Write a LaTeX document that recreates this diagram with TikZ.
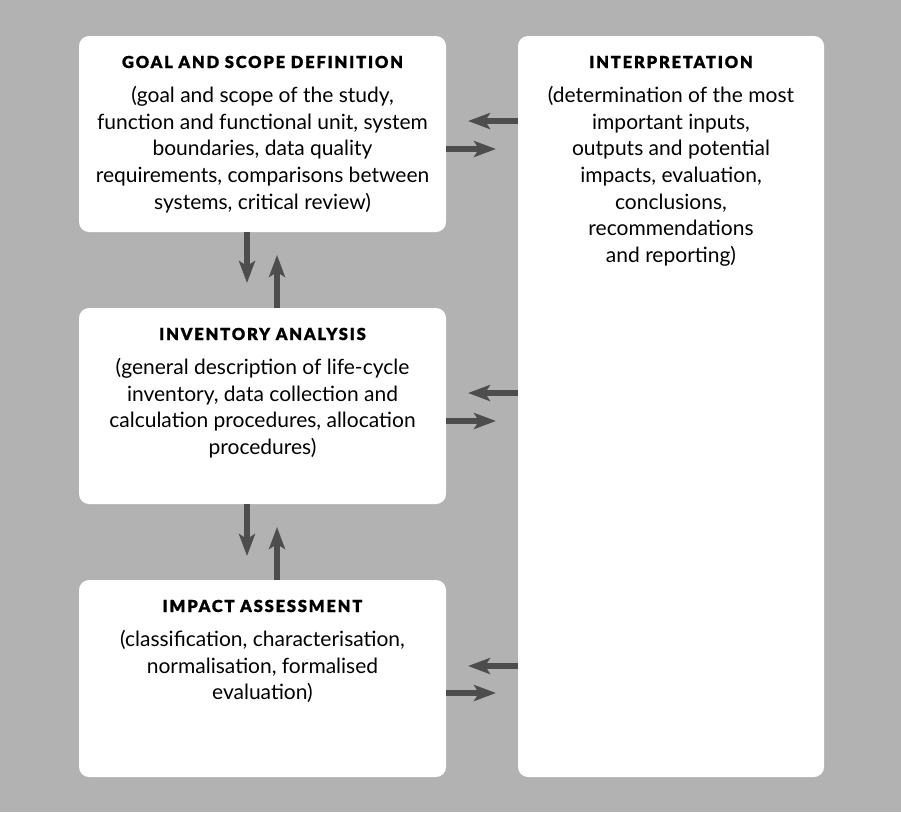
\documentclass[tikz,border=0pt]{standalone}
\usepackage{fontspec}
\setmainfont{Lato}
\IfFontExistsTF{Lato Black}
  {\newfontfamily\ttlfont{Lato Black}[LetterSpace=11,FakeBold=1]}
  {\newfontfamily\ttlfont{Lato}[LetterSpace=11,FakeBold=1,UprightFont=*-Bold]}
\usetikzlibrary{arrows.meta}
\definecolor{bg}{HTML}{B2B2B2}
\definecolor{arr}{HTML}{4D4D4D}
\begin{document}
\begin{tikzpicture}[x=1pt,y=-1pt,
  box/.style={fill=white,rounded corners=10pt,draw=none,inner sep=0pt},
  ttl/.style={font=\ttlfont\fontsize{16.5}{20}\selectfont,anchor=base,inner sep=0pt},
  body/.style={font=\fontsize{21}{26.7}\selectfont,align=center,anchor=north,inner sep=0pt},
  flow/.style={draw=arr,line width=6pt,-{Stealth[length=22pt,width=16pt,inset=5pt]}}]
\fill[bg] (0,0) rectangle (901,812);
\useasboundingbox (0,0) rectangle (901,812);
% boxes
\node[box,minimum width=367pt,minimum height=196pt] (goal) at (262.5,134) {};
\node[box,minimum width=367pt,minimum height=196pt] (inv) at (262.5,406) {};
\node[box,minimum width=367pt,minimum height=197pt] (imp) at (262.5,678.5) {};
\node[box,minimum width=306pt,minimum height=741pt] (interp) at (671,406.5) {};
% texts
\node[ttl] (goalT) at (262.5,68) {GOAL AND SCOPE DEFINITION};
\node[body] (goalB) at (262.5,86) {(goal and scope of the study,\\function and functional unit, system\\boundaries, data quality\\requirements, comparisons between\\systems, critical review)};
\node[ttl] (invT) at (262.5,340) {INVENTORY ANALYSIS};
\node[body] (invB) at (262.5,358) {(general description of life-cycle\\inventory, data collection and\\calculation procedures, allocation\\procedures)};
\node[ttl] (impT) at (262.5,612) {IMPACT ASSESSMENT};
\node[body] (impB) at (262.5,630) {(classification, characterisation,\\normalisation, formalised\\evaluation)};
\node[ttl] (intT) at (671,68) {INTERPRETATION};
\node[body] (intB) at (671,86) {(determination of the most\\important inputs,\\outputs and potential\\impacts, evaluation,\\conclusions,\\recommendations\\and reporting)};
% vertical arrows
\coordinate (d1) at (247,283);
\coordinate (u1) at (277,255);
\draw[flow] (goal.south -| d1) -- (d1);
\draw[flow] (inv.north -| u1) -- (u1);
\coordinate (d2) at (247,556);
\coordinate (u2) at (277,527);
\draw[flow] (inv.south -| d2) -- (d2);
\draw[flow] (imp.north -| u2) -- (u2);
% horizontal arrows
\coordinate (l1) at (468,121);
\coordinate (r1) at (496,149);
\draw[flow] (interp.west |- l1) -- (l1);
\draw[flow] (goal.east |- r1) -- (r1);
\coordinate (l2) at (468,393);
\coordinate (r2) at (496,421);
\draw[flow] (interp.west |- l2) -- (l2);
\draw[flow] (inv.east |- r2) -- (r2);
\coordinate (l3) at (468,666);
\coordinate (r3) at (496,693);
\draw[flow] (interp.west |- l3) -- (l3);
\draw[flow] (imp.east |- r3) -- (r3);
\end{tikzpicture}
\end{document}
